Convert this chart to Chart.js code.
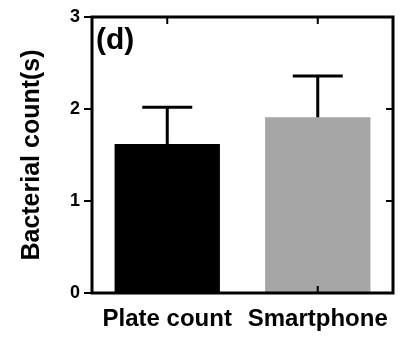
<!DOCTYPE html>
<html><head><meta charset="utf-8">
<script src="https://cdn.jsdelivr.net/npm/chart.js@4"></script>
<style>html,body{margin:0;padding:0;background:#fff}#w{width:413px;height:340px}</style>
</head><body><div id="w"><canvas id="c"></canvas></div>
<script>
const categories = ["Plate count", "Smartphone"];
const means = [1.62, 1.91];
const errUpper = [0.40, 0.45];
const barColors = ["#000000", "#a6a6a6"];
const yTicks = [0, 1, 2, 3];
const panelLabel = "(d)";
const yTitle = "Bacterial count(s)";

const FONT = "'Liberation Sans', Arial, sans-serif";

const framePlugin = {
  id: 'frame',
  afterDatasetsDraw(chart) {
    const {ctx, chartArea: a, scales: {x, y}} = chart;
    ctx.save();
    ctx.strokeStyle = '#000';
    ctx.lineWidth = 3;
    const meta = chart.getDatasetMeta(0);
    means.forEach((m, i) => {
      const cx = meta.data[i].x;
      const yTop = y.getPixelForValue(m + errUpper[i]);
      const yM = y.getPixelForValue(m);
      ctx.beginPath(); ctx.moveTo(cx, yM); ctx.lineTo(cx, yTop); ctx.stroke();
      ctx.beginPath(); ctx.moveTo(cx - 25, yTop); ctx.lineTo(cx + 25, yTop); ctx.stroke();
    });
    ctx.lineWidth = 3;
    ctx.beginPath();
    ctx.rect(a.left, a.top, a.right - a.left, a.bottom - a.top);
    ctx.stroke();
    ctx.lineWidth = 2;
    meta.data.forEach(b => {
      ctx.beginPath(); ctx.moveTo(b.x, a.top); ctx.lineTo(b.x, a.top + 7); ctx.stroke();
      ctx.beginPath(); ctx.moveTo(b.x, a.bottom); ctx.lineTo(b.x, a.bottom - 7); ctx.stroke();
    });
    yTicks.forEach(t => {
      const py = y.getPixelForValue(t);
      ctx.beginPath(); ctx.moveTo(a.right, py); ctx.lineTo(a.right - 7, py); ctx.stroke();
    });
    ctx.fillStyle = '#000';
    ctx.font = "bold 30px " + FONT;
    ctx.textBaseline = 'top';
    ctx.textAlign = 'left';
    ctx.fillText(panelLabel, a.left + 4, a.top + 9);
    ctx.restore();
  }
};

new Chart(document.getElementById('c'), {
  type: 'bar',
  data: {
    labels: categories,
    datasets: [{
      data: means,
      backgroundColor: barColors,
      borderWidth: 0,
      barPercentage: 0.7,
      categoryPercentage: 1.0
    }]
  },
  options: {
    responsive: true,
    maintainAspectRatio: false,
    animation: false,
    layout: {padding: {top: 17, right: 20, left: 0, bottom: 0}},
    plugins: {legend: {display: false}, tooltip: {enabled: false}},
    scales: {
      x: {
        grid: {display: false, drawTicks: false},
        border: {display: false},
        ticks: {color: '#000', font: {family: FONT, size: 24, weight: 'bold'}, padding: 12, maxRotation: 0, autoSkip: false},
        afterFit(s) { s.height = 47; }
      },
      y: {
        min: 0, max: 3,
        afterBuildTicks(s) { s.ticks = yTicks.map(v => ({value: v})); },
        grid: {drawOnChartArea: false, drawTicks: true, tickLength: 8, color: '#000', lineWidth: 2},
        border: {display: false},
        ticks: {color: '#000', font: {family: FONT, size: 18, weight: 'bold'}, padding: 4},
        title: {display: true, text: yTitle, color: '#000', font: {family: FONT, size: 25, weight: 'bold'}, padding: {top: 17, bottom: 0}},
        afterFit(s) { s.width = 92; }
      }
    }
  },
  plugins: [framePlugin]
});
</script>
</body></html>
